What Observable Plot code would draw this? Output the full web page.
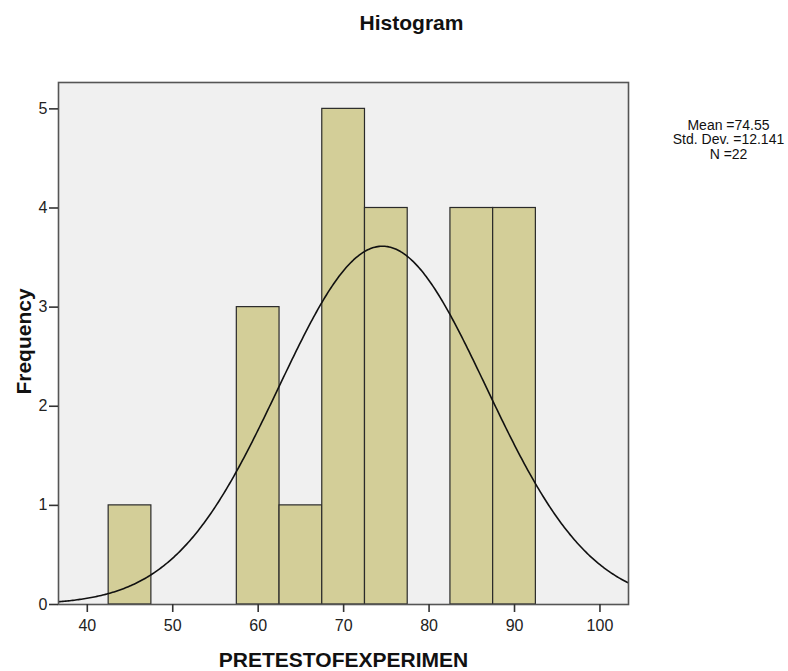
<!DOCTYPE html>
<html>
<head>
<meta charset="utf-8">
<script src="https://cdn.jsdelivr.net/npm/d3@7"></script>
<script src="https://cdn.jsdelivr.net/npm/@observablehq/plot@0.6"></script>
<style>
  html, body { margin: 0; padding: 0; background: #fff; }
  svg { display: block; }
</style>
</head>
<body>
<div id="chart"></div>
<script>
// ---- data ----
const binLeft = [42.5, 57.5, 62.5, 67.5, 72.5, 82.5, 87.5];
const counts  = [1, 3, 1, 5, 4, 4, 4];
const BIN_WIDTH = 5;
const xTicks = [40, 50, 60, 70, 80, 90, 100];
const yTicks = [0, 1, 2, 3, 4, 5];
const MEAN = 74.55;
const SD = 12.141;
const N = 22;
const legendLines = ["Mean =74.55", "Std. Dev. =12.141", "N =22"];
const titleText = "Histogram";
const xLabel = "PRETESTOFEXPERIMEN";
const yLabel = "Frequency";

const X_DOMAIN = [36.63, 103.34];
const Y_DOMAIN = [0, 5.266];

const bars = binLeft.map((b, i) => ({x1: b, x2: b + BIN_WIDTH, y: counts[i]}));

// fitted normal curve (SPSS overlay) from the stated Mean / Std. Dev. / N
const curve = d3.range(0, 401).map(i => {
  const x = X_DOMAIN[0] + (X_DOMAIN[1] - X_DOMAIN[0]) * i / 400;
  const z = (x - MEAN) / SD;
  return {x, y: N * BIN_WIDTH * Math.exp(-0.5 * z * z) / (SD * Math.sqrt(2 * Math.PI))};
});

const FONT = "'Liberation Sans', Arial, sans-serif";

const chart = Plot.plot({
  width: 788,
  height: 671,
  marginLeft: 58,
  marginRight: 160,
  marginTop: 82,
  marginBottom: 67,
  style: {fontFamily: FONT, background: "#fff", color: "#222"},
  x: {domain: X_DOMAIN},
  y: {domain: Y_DOMAIN},
  marks: [
    Plot.frame({fill: "#f0f0f0", stroke: "none"}),
    Plot.rectY(bars, {x1: "x1", x2: "x2", y: "y", fill: "#d3ce98", stroke: "#2a2a2a", strokeWidth: 1.2}),
    Plot.line(curve, {x: "x", y: "y", stroke: "#111", strokeWidth: 1.6, clip: "frame"}),
    Plot.frame({stroke: "#555", strokeWidth: 1.6}),
    Plot.axisX({ticks: xTicks, tickSize: 8, tickPadding: 7, tickFormat: "d", label: null, fontSize: 16, stroke: "#333", strokeWidth: 1.6}),
    Plot.axisY({ticks: yTicks, tickSize: 9, tickPadding: 2, tickFormat: "d", label: null, fontSize: 16, stroke: "#333", strokeWidth: 1.6}),
    Plot.text([titleText], {frameAnchor: "top", dx: 68, dy: -67, fontSize: 21, fontWeight: "bold", fill: "#111"}),
    Plot.text([legendLines.join("\n")], {frameAnchor: "top-right", dx: 100, dy: 57, textAnchor: "middle", lineAnchor: "middle", lineHeight: 1.05, fontSize: 14, fill: "#111"}),
    Plot.text([xLabel], {frameAnchor: "bottom", dy: 62, lineAnchor: "bottom", fontSize: 21, fontWeight: "bold", fill: "#111"}),
    Plot.text([yLabel], {frameAnchor: "left", dx: -34, dy: -2, rotate: -90, textAnchor: "middle", fontSize: 21, fontWeight: "bold", fill: "#111"})
  ]
});
document.getElementById("chart").appendChild(chart);
</script>
</body>
</html>
